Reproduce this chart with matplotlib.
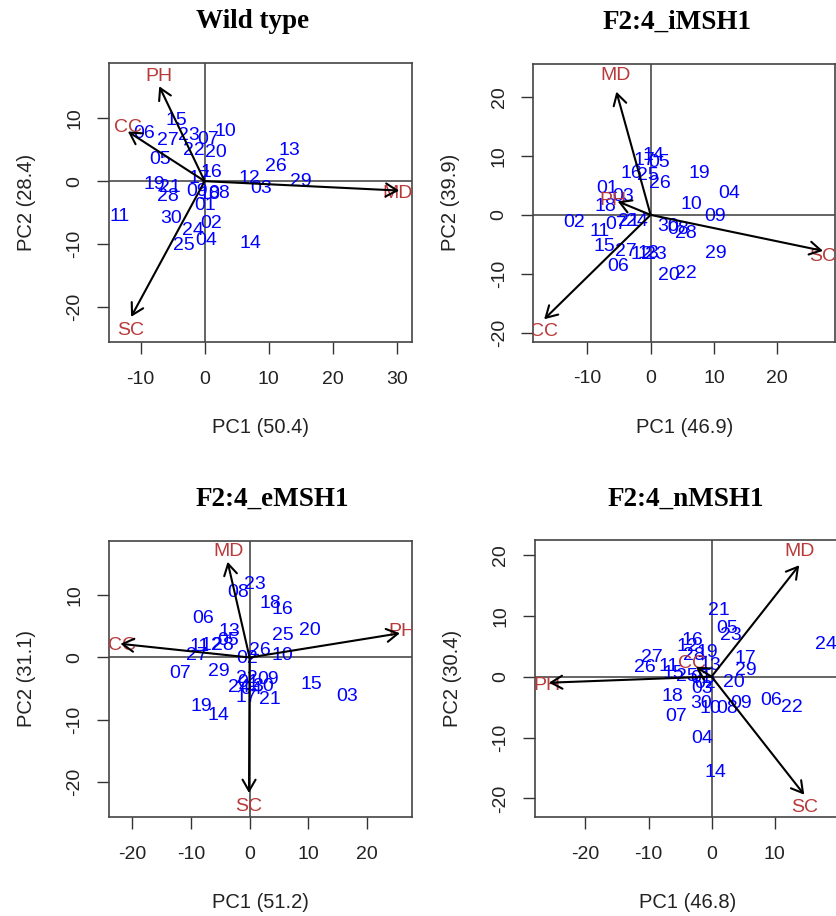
import matplotlib
matplotlib.use('Agg')
import matplotlib.pyplot as plt

plt.rcParams['font.family'] = ['Liberation Sans', 'DejaVu Sans']

ids = ['%02d' % i for i in range(1, 31)]

# --- Wild type ---
wt_x = [0.1, 1.0, 8.8, 0.2, -6.9, -9.4, 0.5, 2.3, -1.25, 3.3, -13.3, 7.0, 13.2, 7.2, -4.4,
        1.0, -0.8, 0.7, -7.9, 1.8, -5.5, -1.7, -2.5, -1.9, -3.2, 11.1, -5.8, -5.8, 15.1, -5.3]
wt_y = [-3.8, -6.8, -1.1, -9.4, 3.5, 7.6, 6.6, -1.9, -1.7, 7.9, -5.6, 0.4, 4.9, -9.9, 9.6,
        1.3, 0.4, -2.1, -0.6, 4.5, -1.0, 4.9, 7.3, -7.8, -10.2, 2.4, 6.4, -2.5, -0.1, -5.9]
wt_vars = ['PH', 'CC', 'MD', 'SC']
wt_tip_x = [-7.1, -12.0, 30.4, -11.5]
wt_tip_y = [15.1, 7.9, -1.5, -21.6]
wt_lab_x = [-7.1, -12.0, 30.2, -11.5]
wt_lab_y = [16.7, 8.5, -1.9, -23.8]

# --- F2:4_iMSH1 ---
im_x = [-6.8, -12.1, -4.4, 12.4, 1.3, -5.2, -5.5, 4.3, 10.2, 6.5, -8.1, -1.5, -0.3, 0.4, -7.3,
        -3.1, -1.0, -7.1, 7.7, 2.9, -3.4, 5.6, 0.8, -2.1, -0.5, 1.4, -3.9, 5.6, 10.3, 2.8]
im_y = [4.5, -1.3, 3.2, 3.7, 8.9, -8.8, -1.7, -2.5, -0.2, 1.7, -2.8, -6.8, -6.6, 10.0, -5.4,
        7.1, 9.2, 1.4, 7.0, -10.2, -1.1, -9.9, -6.8, -1.1, 6.6, 5.4, -6.2, -3.1, -6.5, -2.0]
im_vars = ['MD', 'SC', 'CC', 'PH']
im_tip_x = [-5.4, 27.2, -16.8, -5.2]
im_tip_y = [20.9, -6.1, -17.7, 2.3]
im_lab_x = [-5.6, 27.2, -16.8, -5.9]
im_lab_y = [23.6, -7.1, -19.8, 2.5]

# --- F2:4_eMSH1 ---
em_x = [-0.2, -0.5, 16.6, 0.3, -3.6, -7.9, -11.9, -1.9, 3.2, 5.6, -8.5, -6.5, -3.4, -5.3, 10.6,
        5.6, -0.5, 3.5, -8.2, 10.3, 3.5, -0.5, 0.9, -1.9, 5.6, 1.8, -9.0, -4.5, -5.3, 2.3]
em_y = [-4.1, -0.1, -6.2, -5.1, 2.8, 6.3, -2.5, 10.5, -3.5, 0.4, 1.8, 1.9, 4.2, -9.4, -4.4,
        7.8, -6.5, 8.7, -7.9, 4.4, -6.8, -3.3, 11.7, -4.9, 3.6, 1.2, 0.4, 2.0, -2.3, -4.7]
em_vars = ['MD', 'PH', 'CC', 'SC']
em_tip_x = [-3.75, 25.6, -22.0, -0.1]
em_tip_y = [15.4, 3.9, 2.2, -21.8]
em_lab_x = [-3.6, 25.9, -21.8, -0.1]
em_lab_y = [17.0, 4.2, 2.0, -24.0]

# --- F2:4_nMSH1 ---
nm_x = [-1.7, -1.0, -1.5, -1.5, 2.5, 9.4, -5.7, 2.5, 4.6, -0.2, -6.8, -3.9, -0.2, 0.6, -6.0,
        -3.1, 5.4, -6.2, -0.7, 3.5, 1.2, 12.8, 3.0, 18.1, -3.9, -10.5, -9.4, -2.8, 5.4, -1.7]
nm_y = [-0.3, -1.2, -2.0, -10.2, 7.9, -3.9, -6.6, -5.2, -4.4, -5.2, 1.6, 4.9, 1.9, -15.7, 0.5,
        6.0, 3.0, -3.3, 3.9, -1.0, 10.9, -5.1, 6.8, 5.3, 0.1, 1.5, 3.2, 3.5, 1.0, -4.4]
nm_vars = ['MD', 'SC', 'PH', 'CC']
nm_tip_x = [13.9, 14.7, -25.8, -2.5]
nm_tip_y = [18.3, -19.4, -1.0, 1.6]
nm_lab_x = [13.9, 14.8, -26.1, -3.1]
nm_lab_y = [20.5, -21.5, -1.4, 2.1]

panels = [
    dict(title='Wild type', xlab='PC1 (50.4)', ylab='PC2 (28.4)',
         x=wt_x, y=wt_y, vars=wt_vars, tx=wt_tip_x, ty=wt_tip_y, lx=wt_lab_x, ly=wt_lab_y,
         pos=[0.1304, 0.6266, 0.3624, 0.3046], xlim=(-14.95, 32.4), ylim=(-25.6, 18.8),
         xt=[-10, 0, 10, 20, 30], yt=[-20, -10, 0, 10], tpos=(0.302, 0.976)),
    dict(title='F2:4_iMSH1', xlab='PC1 (46.9)', ylab='PC2 (39.9)',
         x=im_x, y=im_y, vars=im_vars, tx=im_tip_x, ty=im_tip_y, lx=im_lab_x, ly=im_lab_y,
         pos=[0.638, 0.627, 0.3608, 0.3032], xlim=(-18.5, 29.1), ylim=(-21.5, 25.6),
         xt=[-10, 0, 10, 20], yt=[-20, -10, 0, 10, 20], tpos=(0.8095, 0.976)),
    dict(title='F2:4_eMSH1', xlab='PC1 (51.2)', ylab='PC2 (31.1)',
         x=em_x, y=em_y, vars=em_vars, tx=em_tip_x, ty=em_tip_y, lx=em_lab_x, ly=em_lab_y,
         pos=[0.1307, 0.1078, 0.3617, 0.302], xlim=(-23.9, 27.6), ylim=(-25.7, 18.8),
         xt=[-20, -10, 0, 10, 20], yt=[-20, -10, 0, 10], tpos=(0.3254, 0.455)),
    dict(title='F2:4_nMSH1', xlab='PC1 (46.8)', ylab='PC2 (30.4)',
         x=nm_x, y=nm_y, vars=nm_vars, tx=nm_tip_x, ty=nm_tip_y, lx=nm_lab_x, ly=nm_lab_y,
         pos=[0.640, 0.1078, 0.365, 0.3024], xlim=(-28.0, 20.4), ylim=(-23.1, 22.4),
         xt=[-20, -10, 0, 10], yt=[-20, -10, 0, 10, 20], tpos=(0.8202, 0.455)),
]

fig = plt.figure(figsize=(8.36, 9.16), dpi=100)

for p in panels:
    ax = fig.add_axes(p['pos'])
    ax.set_xlim(*p['xlim'])
    ax.set_ylim(*p['ylim'])
    ax.axhline(0, color='#3a3a3a', lw=1.1, zorder=1)
    ax.axvline(0, color='#3a3a3a', lw=1.1, zorder=1)

    for lab, x, y in zip(ids, p['x'], p['y']):
        ax.text(x, y, lab, color='#0000ff', fontsize=14, ha='center', va='center',
                clip_on=True, zorder=3)

    for name, tx, ty, lx, ly in zip(p['vars'], p['tx'], p['ty'], p['lx'], p['ly']):
        ax.text(lx, ly, name, color='#b83a3a', fontsize=14, ha='center', va='center',
                clip_on=True, zorder=3)
        ax.annotate('', xy=(tx, ty), xytext=(0, 0),
                    arrowprops=dict(arrowstyle='->,head_length=0.45,head_width=0.26',
                                    color='black', lw=1.5, shrinkA=0, shrinkB=0,
                                    mutation_scale=18),
                    annotation_clip=False, zorder=4)

    ax.set_xticks(p['xt'])
    ax.set_yticks(p['yt'])
    ax.set_xticklabels([str(v) for v in p['xt']])
    ax.set_yticklabels([str(v) for v in p['yt']], rotation=90, va='center')
    ax.tick_params(direction='out', length=8.5, width=1.0, colors='#333333',
                   labelsize=14, labelcolor='#222222')
    ax.tick_params(axis='x', pad=12)
    ax.tick_params(axis='y', pad=10)
    for s in ax.spines.values():
        s.set_color('#444444')
        s.set_linewidth(1.2)
    ax.set_xlabel(p['xlab'], fontsize=14.5, color='#222222', labelpad=22)
    ax.set_ylabel(p['ylab'], fontsize=14.5, color='#222222', labelpad=22)

    fig.text(p['tpos'][0], p['tpos'][1], p['title'], ha='center', va='center',
             fontsize=19.5, fontweight='bold', family='Liberation Serif')

fig.savefig('out.png', dpi=100)
